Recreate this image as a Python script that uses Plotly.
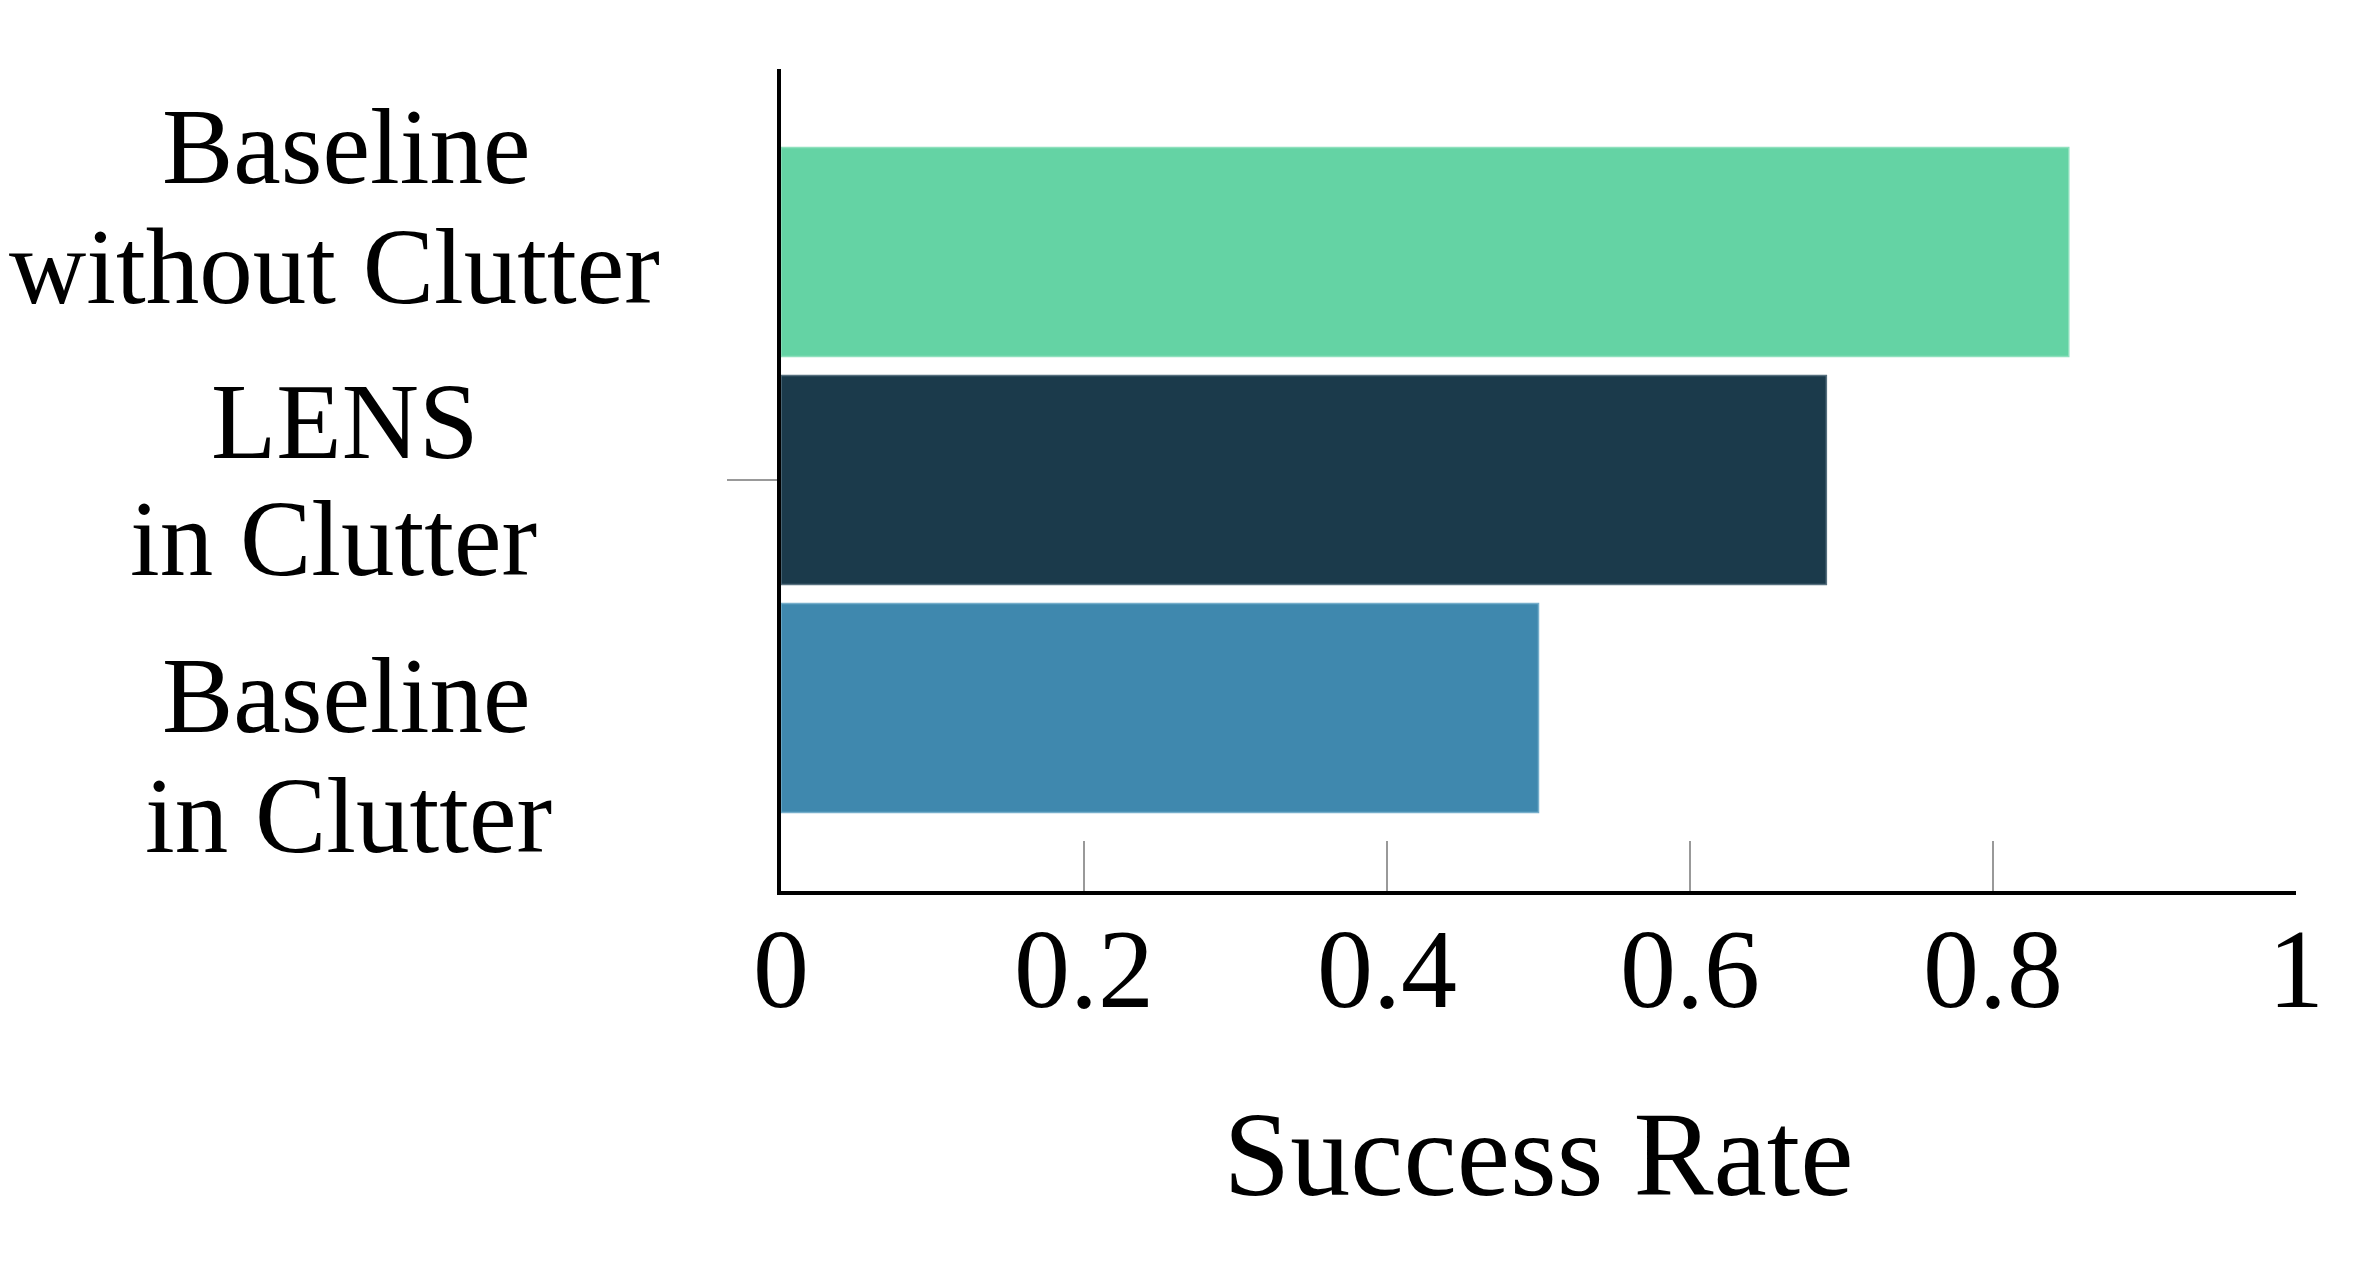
import plotly.graph_objects as go

# ---- data ----
series_names = ["Baseline in Clutter", "LENS in Clutter", "Baseline without Clutter"]
label_lines = [["Baseline", "in Clutter"], ["LENS", "in Clutter"], ["Baseline", "without Clutter"]]
success_rate = [0.50, 0.69, 0.85]
bar_colors = ["#3f88ae", "#1b3a4b", "#64d3a4"]
edge_colors = ["#76aecb", "#566f7e", "#8ee0bd"]
x_tickvals = [0, 0.2, 0.4, 0.6, 0.8, 1.0]
x_ticktext = ["0", "0.2", "0.4", "0.6", "0.8", "1"]

FONT = "Liberation Serif, Times New Roman, serif"
W, H = 2360, 1286
L, R, T, B = 781, 64, 69, 395
plot_h = H - T - B
plot_w = W - L - R

fig = go.Figure()
for name, val, col, ecol in zip(series_names, success_rate, bar_colors, edge_colors):
    fig.add_trace(go.Bar(
        y=[0], x=[val], orientation="h", name=name,
        marker=dict(color=col, line=dict(color=ecol, width=1.5)),
        showlegend=False,
    ))

def py(px):
    return (H - B - px) / plot_h

def pxx(px):
    return (px - L) / plot_w

# label line positions (pixel centre x, centre y)
line_pos = [[(346, 696), (348, 816)], [(345, 422), (333, 539)], [(346, 147), (334, 267)]]
annotations = []
for lines, pos in zip(label_lines, line_pos):
    for txt, (cx, cy) in zip(lines, pos):
        annotations.append(dict(
            text=txt, xref="paper", yref="paper",
            x=pxx(cx), y=py(cy),
            xanchor="center", yanchor="middle", showarrow=False,
            font=dict(family=FONT, size=107, color="black"),
        ))

fig.update_layout(
    width=W, height=H,
    margin=dict(l=L, r=R, t=T, b=B, pad=0),
    paper_bgcolor="white", plot_bgcolor="white",
    barmode="group", bargap=0.168, bargroupgap=0.083,
    annotations=annotations,
    font=dict(family=FONT, color="black"),
    xaxis=dict(
        range=[0, 1], tickvals=x_tickvals, ticktext=x_ticktext,
        ticks="inside", ticklen=50, tickwidth=2, tickcolor="#999999",
        showline=True, linecolor="black", linewidth=4,
        showgrid=False, zeroline=False,
        ticklabelstandoff=-22,
        tickfont=dict(family=FONT, size=112, color="black"),
        title=dict(text="Success Rate", font=dict(family=FONT, size=120, color="black"), standoff=82),
    ),
    yaxis=dict(
        range=[-0.5, 0.5], tickvals=[0], ticktext=[""],
        ticks="outside", ticklen=50, tickwidth=1.5, tickcolor="#999999",
        showline=True, linecolor="black", linewidth=4,
        showgrid=False, zeroline=False,
    ),
)

fig.write_html("out.html")
